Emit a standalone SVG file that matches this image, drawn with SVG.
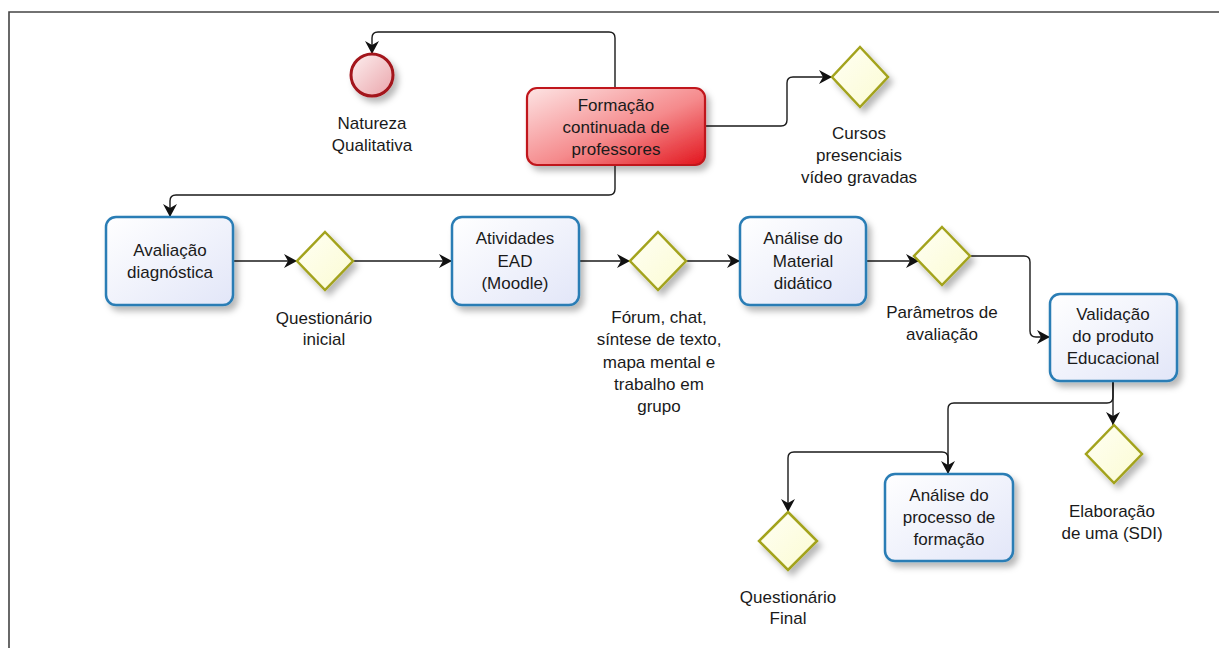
<svg xmlns="http://www.w3.org/2000/svg" width="1219" height="648" viewBox="0 0 1219 648">
<defs>
<linearGradient id="gBlue" x1="0" y1="0" x2="1" y2="1">
<stop offset="0" stop-color="#ffffff"/><stop offset="1" stop-color="#e2e6f8"/>
</linearGradient>
<linearGradient id="gRed" x1="0" y1="0" x2="1" y2="1">
<stop offset="0" stop-color="#fde4e4"/><stop offset="0.55" stop-color="#f58a8c"/><stop offset="1" stop-color="#e2141c"/>
</linearGradient>
<linearGradient id="gCircle" x1="0" y1="0" x2="1" y2="1">
<stop offset="0" stop-color="#fdf0f0"/><stop offset="1" stop-color="#eaa4aa"/>
</linearGradient>
<linearGradient id="gDia" x1="0" y1="0" x2="1" y2="1">
<stop offset="0" stop-color="#fffff4"/><stop offset="1" stop-color="#fbfbd2"/>
</linearGradient>
<filter id="sh" x="-20%" y="-20%" width="150%" height="150%">
<feDropShadow dx="4" dy="5" stdDeviation="3" flood-color="#000" flood-opacity="0.28"/>
</filter>
<marker id="arr" markerUnits="userSpaceOnUse" markerWidth="15" markerHeight="15" refX="13" refY="7" orient="auto">
<path d="M0,0 L13,7 L0,14 L4,7 z" fill="#111"/>
</marker>
<style>
.task{fill:url(#gBlue);stroke:#2a7db5;stroke-width:2.5;filter:url(#sh)}
.red{fill:url(#gRed);stroke:#c0141a;stroke-width:2.2;filter:url(#sh)}
.dia{fill:url(#gDia);stroke:#a3a31e;stroke-width:2.5;filter:url(#sh)}
.start{fill:url(#gCircle);stroke:#a3131a;stroke-width:3;filter:url(#sh)}
.conn{fill:none;stroke:#1a1a1a;stroke-width:1.4;marker-end:url(#arr)}
text{font-family:"Liberation Sans",Arial,sans-serif;font-size:17px;fill:#1a1a1a;text-anchor:middle}
</style>
</defs>
<rect x="0" y="0" width="1219" height="648" fill="#ffffff"/>
<g id="frame">
<path d="M9,648 V12 H1219" fill="none" stroke="#444" stroke-width="1.6"/>
</g>
<g id="connectors">
<path class="conn" d="M615,88 V38 Q615,32 609,32 H378 Q372,32 372,38 V54"/>
<path class="conn" d="M615,165 V189 Q615,195 609,195 H176 Q170,195 170,201 V217"/>
<path class="conn" d="M705,126 H781 Q787,126 787,120 V83 Q787,77 793,77 H832"/>
<path class="conn" d="M233,261 H297"/>
<path class="conn" d="M353,261 H452"/>
<path class="conn" d="M579,261 H630"/>
<path class="conn" d="M686,261 H740"/>
<path class="conn" d="M866,261 H919"/>
<path class="conn" d="M970,256 H1024 Q1030,256 1030,262 V331 Q1030,337 1036,337 H1050"/>
<path class="conn" d="M1113,381 V425"/>
<path class="conn" d="M1113,381 V397 Q1113,403 1107,403 H954 Q948,403 948,409 V474"/>
<path class="conn" d="M948,474 V458 Q948,452 942,452 H794 Q788,452 788,458 V512"/>
</g>
<g id="start">
<circle class="start" cx="372" cy="75" r="21"/>
<text x="372" y="129">Natureza</text>
<text x="372" y="151">Qualitativa</text>
</g>
<g id="formacao">
<rect class="red" x="527" y="88" width="178" height="77" rx="10"/>
<text x="616" y="111">Formação</text>
<text x="616" y="133">continuada de</text>
<text x="616" y="155">professores</text>
</g>
<g id="cursos">
<polygon class="dia" points="860,47 888,77 860,107 832,77"/>
<text x="859" y="139">Cursos</text>
<text x="859" y="161">presenciais</text>
<text x="859" y="183">vídeo gravadas</text>
</g>
<g id="avaliacao">
<rect class="task" x="106" y="217" width="127" height="88" rx="10"/>
<text x="170" y="256">Avaliação</text>
<text x="170" y="278">diagnóstica</text>
</g>
<g id="questionario-inicial">
<polygon class="dia" points="325,232 353,261 325,290 297,261"/>
<text x="324" y="324">Questionário</text>
<text x="324" y="345">inicial</text>
</g>
<g id="atividades">
<rect class="task" x="452" y="217" width="127" height="88" rx="10"/>
<text x="515" y="244">Atividades</text>
<text x="515" y="267">EAD</text>
<text x="515" y="289">(Moodle)</text>
</g>
<g id="forum">
<polygon class="dia" points="658,232 686,261 658,290 630,261"/>
<text x="659" y="323">Fórum, chat,</text>
<text x="659" y="345">síntese de texto,</text>
<text x="659" y="368">mapa mental e</text>
<text x="659" y="390">trabalho em</text>
<text x="659" y="412">grupo</text>
</g>
<g id="analise-material">
<rect class="task" x="740" y="217" width="126" height="88" rx="10"/>
<text x="803" y="244">Análise do</text>
<text x="803" y="267">Material</text>
<text x="803" y="289">didático</text>
</g>
<g id="parametros">
<polygon class="dia" points="942,227 970,256 942,285 914,256"/>
<text x="942" y="318">Parâmetros de</text>
<text x="942" y="340">avaliação</text>
</g>
<g id="validacao">
<rect class="task" x="1050" y="294" width="127" height="87" rx="10"/>
<text x="1113" y="320">Validação</text>
<text x="1113" y="342">do produto</text>
<text x="1113" y="364">Educacional</text>
</g>
<g id="elaboracao">
<polygon class="dia" points="1114,425 1142,454 1114,483 1086,454"/>
<text x="1112" y="517">Elaboração</text>
<text x="1112" y="539">de uma (SDI)</text>
</g>
<g id="analise-processo">
<rect class="task" x="885" y="474" width="128" height="87" rx="10"/>
<text x="949" y="501">Análise do</text>
<text x="949" y="523">processo de</text>
<text x="949" y="545">formação</text>
</g>
<g id="questionario-final">
<polygon class="dia" points="788,512 817,541 788,570 759,541"/>
<text x="788" y="603">Questionário</text>
<text x="788" y="624">Final</text>
</g>
</svg>
